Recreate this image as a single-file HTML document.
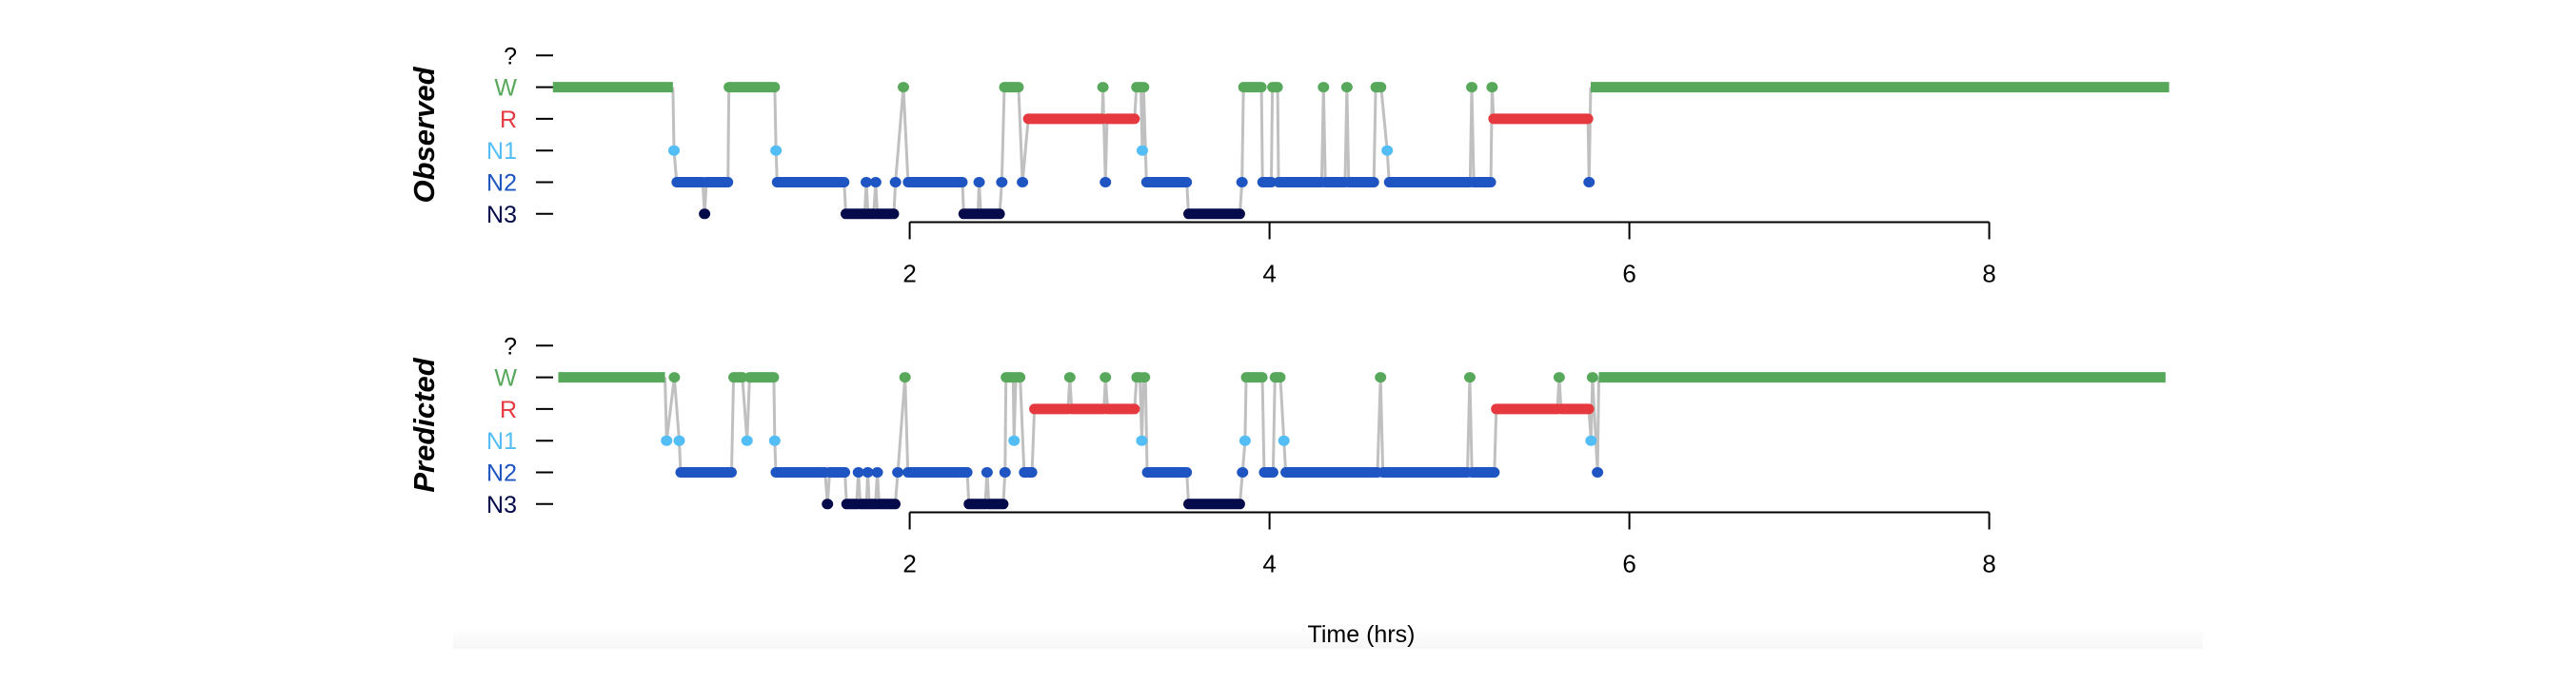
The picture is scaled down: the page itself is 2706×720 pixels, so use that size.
<!DOCTYPE html>
<html><head><meta charset="utf-8"><style>
html,body{margin:0;padding:0;background:#fff;}
svg{display:block;font-family:"Liberation Sans",sans-serif;}
</style></head><body>
<svg id="chart" width="2706" height="720" viewBox="0 0 2706 720" xmlns="http://www.w3.org/2000/svg">
<defs><linearGradient id="bandGrad" x1="0" y1="0" x2="0" y2="1"><stop offset="0" stop-color="#ffffff"/><stop offset="1" stop-color="#f6f6f6"/></linearGradient></defs>
<rect x="0" y="0" width="2706" height="720" fill="#fff"/>
<rect x="476" y="660" width="1838" height="22" fill="url(#bandGrad)"/>
<g id="plots"></g>
<text x="1430" y="675" font-size="25" text-anchor="middle" fill="#000">Time (hrs)</text>
</svg>
<script>
const stages = ["?", "W", "R", "N1", "N2", "N3"];
const stageColors = ["#000000", "#58a85c", "#e6393f", "#53bdf5", "#1e55c2", "#050a4a"];
const xTicks = [2, 4, 6, 8];
// Observed: [start hrs, end hrs, stage]
const observedStart = [0.017,0.69,0.705,0.86,0.87,0.995,1.257,1.263,1.645,1.759,1.768,1.811,1.82,1.921,1.965,1.991,2.30,2.386,2.395,2.512,2.526,2.627,2.659,3.074,3.088,3.097,3.26,3.293,3.30,3.316,3.55,3.847,3.855,3.961,4.016,4.05,4.30,4.31,4.43,4.44,4.59,4.654,4.665,5.124,5.135,5.237,5.245,5.776,5.785];
const observedEnd   = [0.684,0.69,0.85,0.86,0.99,1.25,1.257,1.636,1.75,1.759,1.80,1.811,1.912,1.921,1.965,2.293,2.38,2.386,2.50,2.512,2.605,2.627,3.07,3.074,3.088,3.25,3.285,3.293,3.30,3.54,3.835,3.847,3.955,4.01,4.045,4.29,4.30,4.42,4.43,4.58,4.62,4.654,5.115,5.124,5.23,5.237,5.77,5.776,9.0];
const observedStage = ["W","N1","N2","N3","N2","W","N1","N2","N3","N2","N3","N2","N3","N2","W","N2","N3","N2","N3","N2","W","N2","R","W","N2","R","W","N1","W","N2","N3","N2","W","N2","W","N2","W","N2","W","N2","W","N1","N2","W","N2","W","R","N2","W"];
// Predicted
const predictedStart = [0.047,0.649,0.692,0.719,0.727,1.021,1.096,1.11,1.25,1.256,1.543,1.555,1.649,1.715,1.725,1.767,1.775,1.82,1.83,1.934,1.974,1.99,2.329,2.43,2.44,2.53,2.535,2.58,2.59,2.636,2.693,2.89,2.90,3.088,3.10,3.261,3.29,3.30,3.32,3.55,3.85,3.864,3.87,3.97,4.03,4.08,4.09,4.617,4.63,5.113,5.125,5.26,5.61,5.62,5.787,5.795,5.823,5.83];
const predictedEnd   = [0.64,0.649,0.692,0.719,1.01,1.07,1.096,1.245,1.25,1.53,1.543,1.64,1.705,1.715,1.76,1.767,1.81,1.82,1.92,1.934,1.974,2.32,2.42,2.43,2.52,2.53,2.575,2.58,2.614,2.68,2.88,2.89,3.08,3.088,3.25,3.28,3.29,3.31,3.54,3.835,3.85,3.864,3.96,4.02,4.06,4.08,4.60,4.617,5.10,5.113,5.25,5.60,5.61,5.775,5.787,5.795,5.823,8.98];
const predictedStage = ["W","N1","W","N1","N2","W","N1","W","N1","N2","N3","N2","N3","N2","N3","N2","N3","N2","N3","N2","W","N2","N3","N2","N3","N2","W","N1","W","N2","R","W","R","W","R","W","N1","W","N2","N3","N2","N1","W","N2","W","N1","N2","W","N2","W","N2","R","W","R","N1","W","N2","W"];

const NS = "http://www.w3.org/2000/svg";
const X0 = 577.6, PX_PER_HR = 189;
function xScale(t){ return X0 + t * PX_PER_HR; }
function mk(tag, attrs, parent){ const e = document.createElementNS(NS, tag); for (const k in attrs) e.setAttribute(k, attrs[k]); parent.appendChild(e); return e; }

function drawPanel(offY, title, starts, ends, stg, key){
  const root = document.getElementById("plots");
  const g = mk("g", {}, root);
  
  
  const rowY = i => offY + 58.3 + i * 33.3;
  const yScale = s => rowY(stages.indexOf(s));
  stages.forEach((s, i) => {
    const t = mk("text", {x: 543, y: rowY(i) + 9, "font-size": 25, "text-anchor": "end", fill: stageColors[i]}, g);
    t.textContent = s;
    
    
    const tk = mk("line", {x1: 563, x2: 581, y1: rowY(i), y2: rowY(i), stroke: "#000", "stroke-width": 2}, g);
    
    
  });
  const tt = mk("text", {x: 0, y: 0, "font-size": 31, "font-weight": "bold", "font-style": "italic", "text-anchor": "middle", transform: "translate(456," + (offY + 142) + ") rotate(-90)"}, g);
  tt.textContent = title;
  
  
  const ax = offY + 233.5;
  const al = mk("line", {x1: xScale(xTicks[0]), x2: xScale(xTicks[xTicks.length-1]), y1: ax, y2: ax, stroke: "#000", "stroke-width": 2}, g);
  
  
  xTicks.forEach(v => {
    const l = mk("line", {x1: xScale(v), x2: xScale(v), y1: ax, y2: ax + 18, stroke: "#000", "stroke-width": 2}, g);
    
    
    const t = mk("text", {x: xScale(v), y: ax + 63, "font-size": 26, "text-anchor": "middle", fill: "#000"}, g);
    t.textContent = String(v);
    
    
  });
  for (let i = 0; i + 1 < starts.length; i++){
    const c = mk("line", {x1: xScale(ends[i]), y1: yScale(stg[i]), x2: xScale(starts[i+1]), y2: yScale(stg[i+1]), stroke: "#c0c0c0", "stroke-width": 3}, g);
    
    
  }
  for (let i = 0; i < starts.length; i++){
    const col = stageColors[stages.indexOf(stg[i])];
    const y = yScale(stg[i]);
    const x1 = xScale(starts[i]), x2 = xScale(ends[i]);
    if (x2 - x1 < 3){
      const e = mk("ellipse", {cx: (x1 + x2) / 2, cy: y, rx: 6, ry: 5.5, fill: col}, g);
      
      
    } else {
      const last = i === starts.length - 1;
      const s = mk("line", {x1: x1, x2: x2, y1: y, y2: y, stroke: col, "stroke-width": 11, "stroke-linecap": (i === 0 || last) ? "butt" : "round"}, g);
      
      
    }
  }
}
drawPanel(0, "Observed", observedStart, observedEnd, observedStage, "observed");
drawPanel(305, "Predicted", predictedStart, predictedEnd, predictedStage, "predicted");
</script>
</body></html>
